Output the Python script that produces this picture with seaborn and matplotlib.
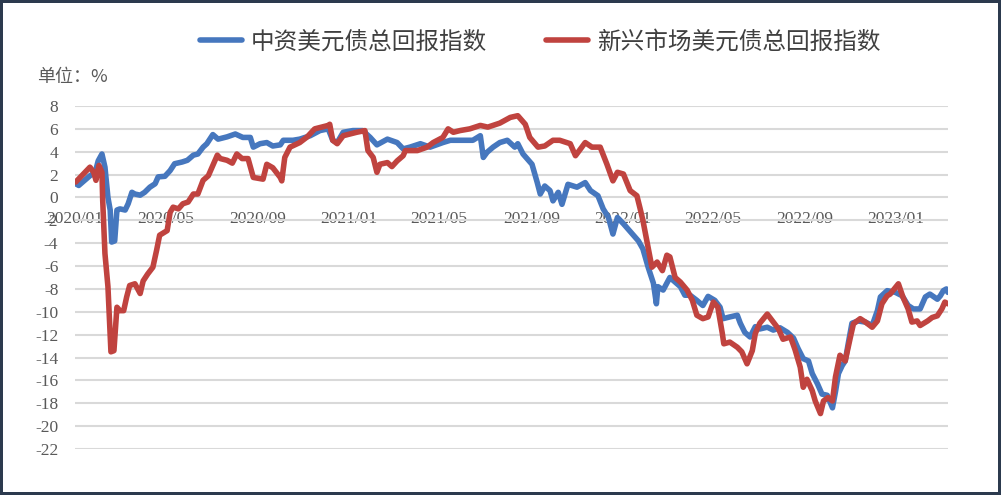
import numpy as np
import pandas as pd
import matplotlib
matplotlib.use("Agg")
import matplotlib.pyplot as plt
import matplotlib.dates as mdates
import seaborn as sns

# 中资美元债总回报指数
cn_dates = [
    "2020-01-02", "2020-01-06", "2020-01-21", "2020-01-28", "2020-02-01", "2020-02-06",
    "2020-02-10", "2020-02-14", "2020-02-17", "2020-02-19", "2020-02-23", "2020-02-26",
    "2020-03-01", "2020-03-08", "2020-03-12", "2020-03-17", "2020-03-21", "2020-03-28",
    "2020-04-03", "2020-04-10", "2020-04-17", "2020-04-21", "2020-04-30", "2020-05-07",
    "2020-05-13", "2020-05-23", "2020-05-30", "2020-06-07", "2020-06-13", "2020-06-20",
    "2020-06-25", "2020-07-03", "2020-07-10", "2020-07-22", "2020-08-02", "2020-08-12",
    "2020-08-22", "2020-08-26", "2020-09-04", "2020-09-13", "2020-09-21", "2020-10-01",
    "2020-10-05", "2020-10-18", "2020-10-27", "2020-11-10", "2020-11-23", "2020-12-04",
    "2020-12-10", "2020-12-16", "2020-12-24", "2021-01-06", "2021-01-19", "2021-01-29",
    "2021-02-07", "2021-02-21", "2021-03-06", "2021-03-14", "2021-03-23", "2021-04-06",
    "2021-04-19", "2021-05-06", "2021-05-16", "2021-05-29", "2021-06-15", "2021-06-25",
    "2021-06-29", "2021-07-04", "2021-07-12", "2021-07-21", "2021-07-31", "2021-08-10",
    "2021-08-14", "2021-08-21", "2021-09-02", "2021-09-09", "2021-09-13", "2021-09-19",
    "2021-09-26", "2021-09-30", "2021-10-07", "2021-10-12", "2021-10-20", "2021-11-01",
    "2021-11-12", "2021-11-19", "2021-11-29", "2021-12-06", "2021-12-13", "2021-12-19",
    "2021-12-25", "2022-01-02", "2022-01-14", "2022-01-22", "2022-01-28", "2022-02-04",
    "2022-02-11", "2022-02-15", "2022-02-17", "2022-02-24", "2022-03-01", "2022-03-05",
    "2022-03-12", "2022-03-19", "2022-03-25", "2022-04-01", "2022-04-10", "2022-04-18",
    "2022-04-25", "2022-05-04", "2022-05-11", "2022-05-15", "2022-05-24", "2022-06-03",
    "2022-06-07", "2022-06-13", "2022-06-20", "2022-06-27", "2022-07-03", "2022-07-13",
    "2022-07-21", "2022-07-30", "2022-08-09", "2022-08-17", "2022-08-23", "2022-08-30",
    "2022-09-06", "2022-09-11", "2022-09-18", "2022-09-24", "2022-10-01", "2022-10-08",
    "2022-10-12", "2022-10-16", "2022-10-21", "2022-10-25", "2022-10-29", "2022-11-03",
    "2022-11-11", "2022-11-21", "2022-11-30", "2022-12-07", "2022-12-11", "2022-12-20",
    "2022-12-31", "2023-01-09", "2023-01-17", "2023-01-24", "2023-02-02", "2023-02-09",
    "2023-02-15", "2023-02-25", "2023-03-01", "2023-03-05", "2023-03-09", "2023-03-11",
]
cn_values = [
    1.2, 1.05, 1.9, 2.2, 3.2, 3.8,
    2.65, 0.0, -1.1, -3.9, -3.8, -1.1,
    -1.0, -1.1, -0.55, 0.45, 0.3, 0.2,
    0.45, 0.9, 1.2, 1.8, 1.85, 2.35,
    2.95, 3.1, 3.25, 3.7, 3.8, 4.4,
    4.7, 5.5, 5.1, 5.3, 5.55, 5.25,
    5.25, 4.4, 4.7, 4.8, 4.5, 4.6,
    5.0, 5.0, 5.1, 5.4, 5.85, 6.0,
    5.0, 4.8, 5.7, 5.85, 5.85, 5.25,
    4.6, 5.1, 4.8, 4.25, 4.4, 4.7,
    4.4, 4.8, 5.0, 5.0, 5.0, 5.4,
    3.5, 3.95, 4.4, 4.8, 5.0, 4.4,
    4.7, 3.8, 2.9, 1.3, 0.3, 1.0,
    0.6, -0.3, 0.45, -0.6, 1.15, 0.9,
    1.3, 0.6, 0.15, -1.0, -1.75, -3.2,
    -1.75, -2.3, -3.2, -3.8, -4.5, -6.1,
    -7.5, -9.3, -7.8, -8.1, -7.5, -7.0,
    -7.4, -7.8, -8.55, -8.55, -9.0, -9.45,
    -8.65, -9.0, -9.6, -10.6, -10.45, -10.3,
    -11.0, -11.8, -12.2, -11.3, -11.5, -11.35,
    -11.6, -11.4, -11.8, -12.3, -13.2, -14.1,
    -14.3, -15.4, -16.3, -17.2, -17.3, -18.4,
    -17.0, -15.4, -14.7, -14.3, -12.8, -11.0,
    -10.8, -10.9, -11.2, -9.9, -8.7, -8.15,
    -8.3, -8.6, -9.45, -9.75, -9.75, -8.7,
    -8.45, -8.9, -8.6, -8.15, -8.0, -8.3,
]

# 新兴市场美元债总回报指数
em_dates = [
    "2020-01-02", "2020-01-21", "2020-01-26", "2020-01-29", "2020-02-02", "2020-02-06",
    "2020-02-07", "2020-02-10", "2020-02-14", "2020-02-18", "2020-02-22", "2020-02-26",
    "2020-03-01", "2020-03-06", "2020-03-10", "2020-03-14", "2020-03-21", "2020-03-28",
    "2020-04-01", "2020-04-07", "2020-04-14", "2020-04-19", "2020-04-23", "2020-05-03",
    "2020-05-07", "2020-05-11", "2020-05-18", "2020-05-24", "2020-05-31", "2020-06-07",
    "2020-06-13", "2020-06-20", "2020-06-27", "2020-07-02", "2020-07-09", "2020-07-13",
    "2020-07-22", "2020-07-29", "2020-08-04", "2020-08-11", "2020-08-19", "2020-08-26",
    "2020-09-08", "2020-09-13", "2020-09-21", "2020-10-01", "2020-10-03", "2020-10-07",
    "2020-10-14", "2020-10-27", "2020-11-06", "2020-11-16", "2020-12-04", "2020-12-06",
    "2020-12-10", "2020-12-16", "2020-12-24", "2021-01-11", "2021-01-22", "2021-01-26",
    "2021-02-02", "2021-02-07", "2021-02-11", "2021-02-21", "2021-02-27", "2021-03-06",
    "2021-03-14", "2021-03-17", "2021-04-02", "2021-04-15", "2021-04-23", "2021-05-06",
    "2021-05-13", "2021-05-20", "2021-05-29", "2021-06-11", "2021-06-25", "2021-07-05",
    "2021-07-21", "2021-08-04", "2021-08-14", "2021-08-24", "2021-08-30", "2021-09-10",
    "2021-09-19", "2021-09-30", "2021-10-09", "2021-10-23", "2021-10-30", "2021-11-12",
    "2021-11-21", "2021-12-02", "2021-12-11", "2021-12-19", "2021-12-25", "2022-01-02",
    "2022-01-11", "2022-01-20", "2022-01-24", "2022-01-28", "2022-02-03", "2022-02-09",
    "2022-02-16", "2022-02-23", "2022-03-01", "2022-03-05", "2022-03-12", "2022-03-19",
    "2022-03-28", "2022-04-04", "2022-04-10", "2022-04-18", "2022-04-25", "2022-05-02",
    "2022-05-08", "2022-05-14", "2022-05-16", "2022-05-24", "2022-06-03", "2022-06-09",
    "2022-06-16", "2022-06-23", "2022-06-27", "2022-07-03", "2022-07-13", "2022-07-21",
    "2022-07-28", "2022-08-03", "2022-08-13", "2022-08-19", "2022-08-26", "2022-08-30",
    "2022-09-04", "2022-09-11", "2022-09-15", "2022-09-22", "2022-09-26", "2022-10-02",
    "2022-10-08", "2022-10-12", "2022-10-18", "2022-10-25", "2022-11-01", "2022-11-05",
    "2022-11-14", "2022-11-21", "2022-11-30", "2022-12-07", "2022-12-13", "2022-12-20",
    "2022-12-24", "2023-01-04", "2023-01-10", "2023-01-17", "2023-01-22", "2023-01-29",
    "2023-02-02", "2023-02-12", "2023-02-18", "2023-02-25", "2023-03-03", "2023-03-07",
    "2023-03-11",
]
em_values = [
    1.35, 2.65, 2.2, 1.5, 2.8, 2.2,
    -0.25, -4.9, -7.8, -13.5, -13.4, -9.6,
    -9.9, -9.9, -8.7, -7.7, -7.55, -8.4,
    -7.3, -6.7, -6.1, -4.6, -3.3, -2.9,
    -1.3, -0.85, -1.0, -0.55, -0.4, 0.3,
    0.3, 1.5, 1.9, 2.65, 3.7, 3.4,
    3.25, 3.0, 3.8, 3.4, 3.4, 1.75,
    1.6, 2.9, 2.6, 1.75, 1.45, 3.5,
    4.4, 4.8, 5.3, 6.0, 6.3, 6.4,
    5.0, 4.7, 5.4, 5.7, 5.85, 4.1,
    3.5, 2.2, 2.9, 3.05, 2.7, 3.2,
    3.65, 4.1, 4.1, 4.4, 4.8, 5.25,
    6.0, 5.7, 5.85, 6.0, 6.3, 6.15,
    6.5, 7.0, 7.15, 6.4, 5.25, 4.4,
    4.5, 5.0, 5.0, 4.7, 3.65, 4.8,
    4.4, 4.4, 2.9, 1.45, 2.2, 2.05,
    0.6, 0.15, -0.9, -2.0, -4.05, -6.1,
    -5.65, -6.4, -5.05, -5.2, -7.0, -7.4,
    -8.1, -9.0, -10.3, -10.6, -10.45, -9.15,
    -9.6, -11.9, -12.8, -12.65, -13.1, -13.5,
    -14.55, -13.4, -11.9, -11.0, -10.2, -10.9,
    -11.5, -12.4, -12.2, -13.3, -14.85, -16.6,
    -15.9, -16.9, -17.8, -18.9, -17.8, -17.5,
    -17.8, -15.7, -13.8, -14.3, -12.2, -11.05,
    -10.6, -10.9, -11.35, -10.8, -9.3, -8.6,
    -8.45, -7.55, -8.7, -9.75, -10.9, -10.8,
    -11.2, -10.8, -10.5, -10.35, -9.75, -9.15,
    -9.3,
]

series_names = ["中资美元债总回报指数", "新兴市场美元债总回报指数"]
series_colors = ["#4677BE", "#C0433F"]
tick_dates = ["2020-01-01", "2020-05-01", "2020-09-01", "2021-01-01", "2021-05-01",
              "2021-09-01", "2022-01-01", "2022-05-01", "2022-09-01", "2023-01-01"]
y_ticks = list(range(-22, 9, 2))

sns.set_style("white")
plt.rcParams["font.family"] = ["Noto Sans CJK SC", "DejaVu Sans"]
plt.rcParams["axes.unicode_minus"] = False

fig = plt.figure(figsize=(10.01, 4.95), dpi=100)
fig.patch.set_edgecolor("#2C3A4E")
fig.patch.set_linewidth(4)
ax = fig.add_axes([0.0749, 0.0929, 0.872, 0.693])

cn = pd.DataFrame({"date": pd.to_datetime(cn_dates), "value": cn_values})
em = pd.DataFrame({"date": pd.to_datetime(em_dates), "value": em_values})

sns.lineplot(data=cn, x="date", y="value", ax=ax, color=series_colors[0],
             linewidth=4, label=series_names[0], solid_joinstyle="round")
sns.lineplot(data=em, x="date", y="value", ax=ax, color=series_colors[1],
             linewidth=4, label=series_names[1], solid_joinstyle="round")

ax.set_xlim(pd.Timestamp("2020-01-01"), pd.Timestamp("2023-03-11"))
ax.set_ylim(-22, 8)
ax.set_yticks(y_ticks)
ax.set_xticks(pd.to_datetime(tick_dates))
ax.xaxis.set_major_formatter(mdates.DateFormatter("%Y/%m"))
ax.set_xlabel("")
ax.set_ylabel("")

ax.yaxis.grid(True, color="#D9D9D9", linewidth=1.5)
ax.xaxis.grid(False)
ax.set_axisbelow(True)
for s in ax.spines.values():
    s.set_visible(False)
ax.spines["bottom"].set_position(("data", 0))

ax.tick_params(axis="y", length=0, pad=12, labelsize=12.5, labelcolor="#595959")
ax.tick_params(axis="x", length=0, pad=10, labelsize=12.5, labelcolor="#595959")
for lab in ax.get_xticklabels() + ax.get_yticklabels():
    lab.set_family("Liberation Serif")

ax.legend(loc="center", bbox_to_anchor=(540 / 1001, 1 - 42 / 495),
          bbox_transform=fig.transFigure, ncol=2, frameon=False,
          fontsize=17, handlelength=1.8, handletextpad=0.35,
          columnspacing=2.5, labelcolor="#404040")

fig.text(37 / 1001, 1 - 77 / 495, "单位：%", fontsize=13, color="#595959",
         ha="left", va="center")

fig.savefig("out.png", dpi=100)
